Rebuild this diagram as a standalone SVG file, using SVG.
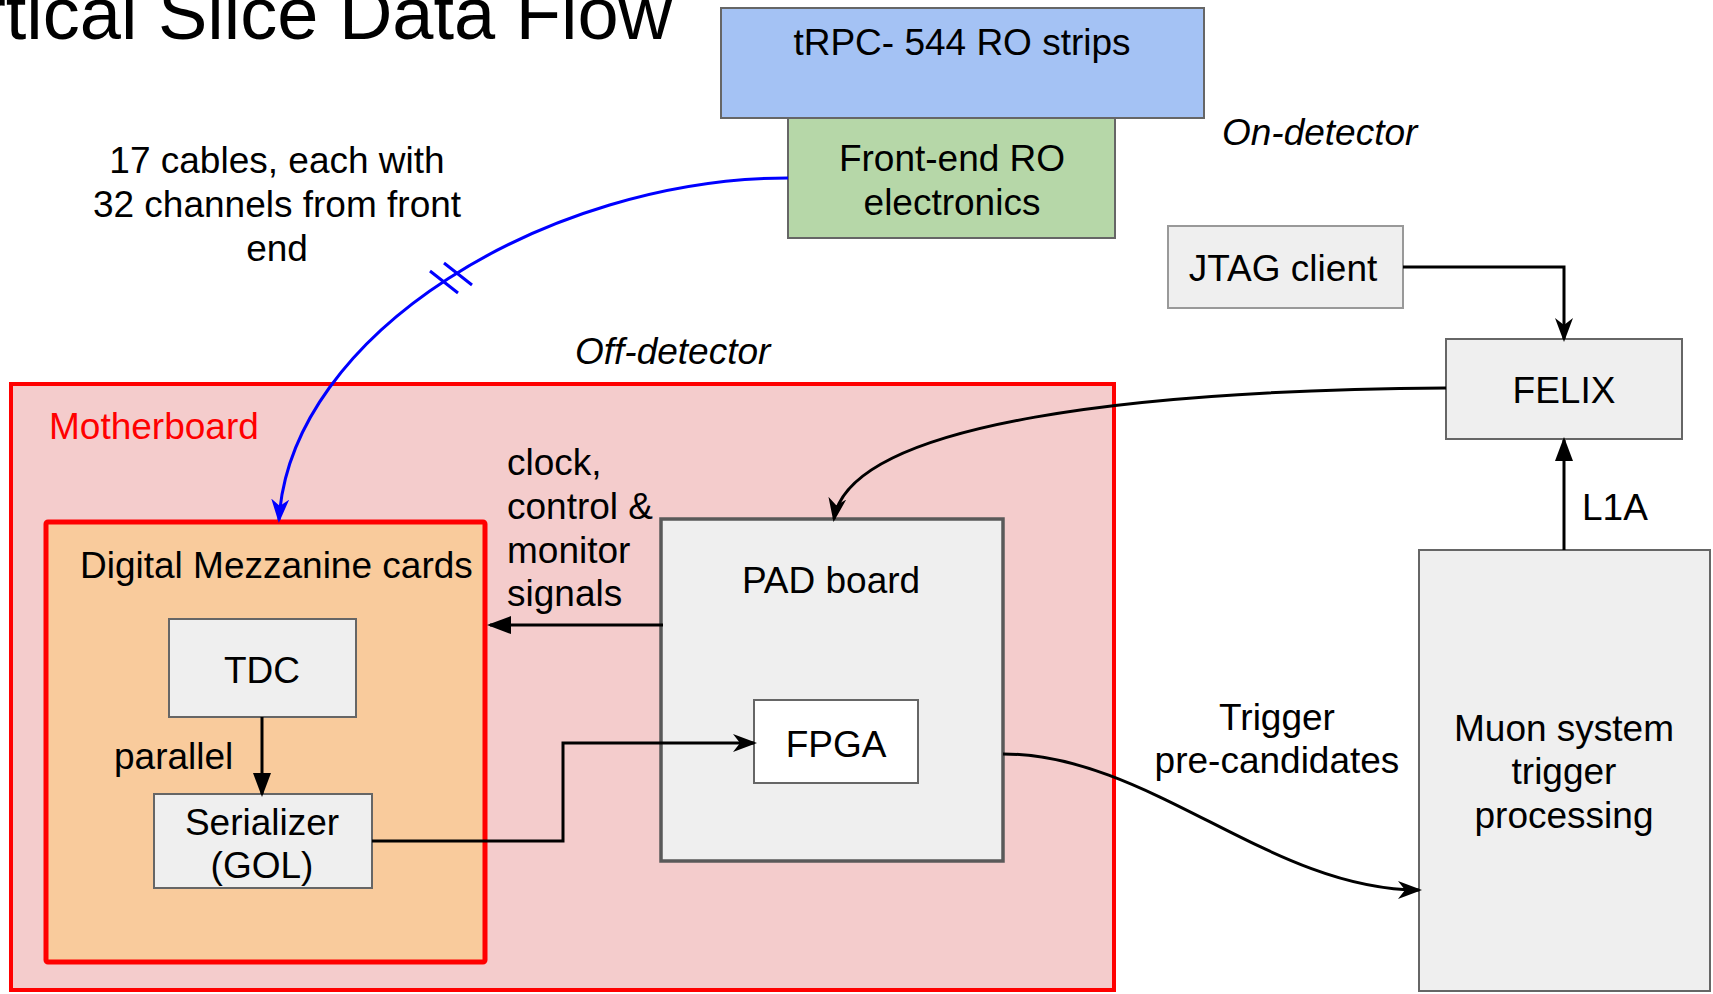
<svg xmlns="http://www.w3.org/2000/svg" width="1713" height="994" viewBox="0 0 1713 994">
<style>
.t{font-family:"Liberation Sans",Arial,sans-serif;font-size:37px;fill:#000}
.c{text-anchor:middle}
.i{font-style:italic}
.box{fill:#efefef;stroke:#666;stroke-width:2}
.conn{fill:none;stroke:#000;stroke-width:3}
</style>
<defs>
<marker id="block" markerUnits="userSpaceOnUse" markerWidth="24" markerHeight="18" refX="21" refY="9" orient="auto" viewBox="0 0 24 18">
<path d="M0,0 L24,9 L0,18 Z" fill="#000"/>
</marker>
<marker id="classic" markerUnits="userSpaceOnUse" markerWidth="24" markerHeight="18" refX="21" refY="9" orient="auto" viewBox="0 0 24 18">
<path d="M0,0 L24,9 L0,18 L7,9 Z" fill="#000"/>
</marker>
<marker id="classicBlue" markerUnits="userSpaceOnUse" markerWidth="24" markerHeight="18" refX="21" refY="9" orient="auto" viewBox="0 0 24 18">
<path d="M0,0 L24,9 L0,18 L7,9 Z" fill="#0000ff"/>
</marker>
</defs>

<text class="t" x="672" y="39" style="font-size:74px;text-anchor:end">Vertical Slice Data Flow</text>

<g id="motherboard">
<rect x="11" y="384" width="1103" height="606" fill="#f4cccc" stroke="#ff0000" stroke-width="4"/>
<text class="t" x="49" y="439" style="fill:#ff0000">Motherboard</text>
</g>

<g id="mezzanine">
<rect x="46" y="522" width="439" height="440" rx="2" fill="#f9cb9c" stroke="#ff0000" stroke-width="5"/>
<text class="t" x="80" y="578">Digital Mezzanine cards</text>
</g>

<g id="tdc">
<rect class="box" x="169" y="619" width="187" height="98"/>
<text class="t c" x="262" y="683">TDC</text>
</g>

<g id="serializer">
<rect class="box" x="154" y="794" width="218" height="94"/>
<text class="t c" x="262" y="835">Serializer</text>
<text class="t c" x="262" y="878">(GOL)</text>
</g>

<g id="pad">
<rect x="661" y="519" width="342" height="342" fill="#efefef" stroke="#595959" stroke-width="3.5"/>
<text class="t c" x="831" y="593">PAD board</text>
</g>

<g id="fpga">
<rect x="754" y="700" width="164" height="83" fill="#ffffff" stroke="#666" stroke-width="2"/>
<text class="t c" x="836" y="757">FPGA</text>
</g>

<g id="trpc">
<rect x="721" y="8" width="483" height="110" fill="#a4c2f4" stroke="#666" stroke-width="2"/>
<text class="t c" x="962" y="55">tRPC- 544 RO strips</text>
</g>

<g id="frontend">
<rect x="788" y="118" width="327" height="120" fill="#b6d7a8" stroke="#666" stroke-width="2"/>
<text class="t c" x="952" y="171">Front-end RO</text>
<text class="t c" x="952" y="215">electronics</text>
</g>

<g id="jtag">
<rect x="1168" y="226" width="235" height="82" fill="#efefef" stroke="#999" stroke-width="2"/>
<text class="t c" x="1283" y="281">JTAG client</text>
</g>

<g id="felix">
<rect class="box" x="1446" y="339" width="236" height="100"/>
<text class="t c" x="1564" y="403">FELIX</text>
</g>

<g id="muon">
<rect class="box" x="1419" y="550" width="291" height="441"/>
<text class="t c" x="1564" y="741">Muon system</text>
<text class="t c" x="1564" y="784">trigger</text>
<text class="t c" x="1564" y="828">processing</text>
</g>

<g id="labels">
<text class="t c" x="277" y="173">17 cables, each with</text>
<text class="t c" x="277" y="217">32 channels from front</text>
<text class="t c" x="277" y="261">end</text>
<text class="t i" x="1222" y="145">On-detector</text>
<text class="t i" x="575" y="364">Off-detector</text>
<text class="t" x="507" y="475">clock,</text>
<text class="t" x="507" y="519">control &amp;</text>
<text class="t" x="507" y="563">monitor</text>
<text class="t" x="507" y="606">signals</text>
<text class="t" x="114" y="769">parallel</text>
<text class="t c" x="1277" y="730">Trigger</text>
<text class="t c" x="1277" y="773">pre-candidates</text>
<text class="t" x="1582" y="520">L1A</text>
</g>

<g id="connectors">
<path d="M788,178 C550,178 290,332 279,520" fill="none" stroke="#0000ff" stroke-width="3" marker-end="url(#classicBlue)"/>
<path d="M430,271 L458,293 M444,263 L472,285" stroke="#0000ff" stroke-width="3" fill="none"/>
<path class="conn" d="M1403,267 L1564,267 L1564,339" marker-end="url(#classic)"/>
<path class="conn" d="M1564,550 L1564,440" marker-end="url(#block)"/>
<path class="conn" d="M1446,388 C1150,390 850,420 834,519" marker-end="url(#classic)"/>
<path class="conn" d="M663,625 L490,625" marker-end="url(#block)"/>
<path class="conn" d="M262,717 L262,794" marker-end="url(#block)"/>
<path class="conn" d="M372,841 L563,841 L563,743 L754,743" marker-end="url(#classic)"/>
<path class="conn" d="M1003,754 C1150,754 1270,890 1419,890" marker-end="url(#classic)"/>
</g>
</svg>
